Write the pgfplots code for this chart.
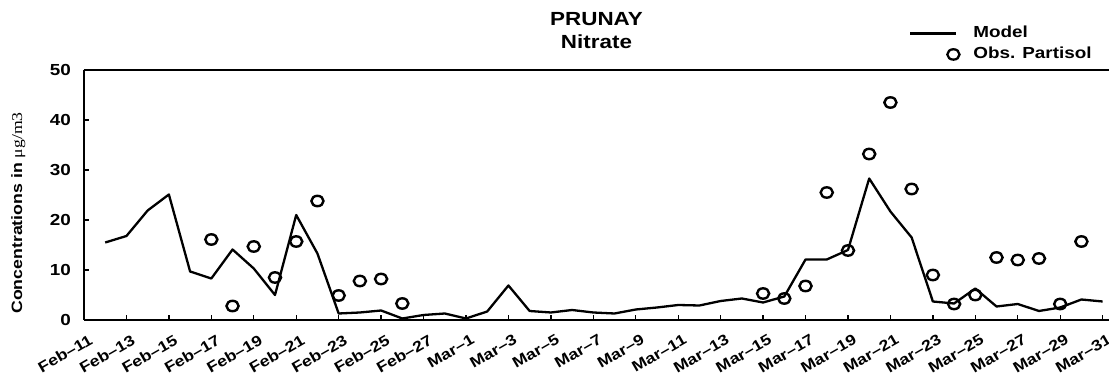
\documentclass[border=0pt]{standalone}
\usepackage{fontspec}
\setmainfont{Liberation Sans}[FakeStretch=1.18]
\newfontfamily\seriffont{Liberation Serif}[FakeStretch=1.18]
\usepackage{pgfplots}
\usepackage{pgfplotstable}
\pgfplotsset{compat=1.18}
\usetikzlibrary{calc}

\pgfplotstableread{
d v
1 15.5
2 16.8
3 21.9
4 25.1
5 9.7
6 8.3
7 14.1
8 10.3
9 5.0
10 21.0
11 13.3
12 1.3
13 1.5
14 1.9
15 0.3
16 1.0
17 1.3
18 0.3
19 1.7
20 6.9
21 1.8
22 1.5
23 2.0
24 1.5
25 1.3
26 2.1
27 2.5
28 3.0
29 2.9
30 3.8
31 4.3
32 3.5
33 4.7
34 12.1
35 12.1
36 14.0
37 28.3
38 21.7
39 16.5
40 3.7
41 3.3
42 6.3
43 2.7
44 3.2
45 1.8
46 2.5
47 4.1
48 3.7
}\model

\pgfplotstableread{
d v
6 16.1
7 2.8
8 14.7
9 8.5
10 15.7
11 23.8
12 4.9
13 7.8
14 8.2
15 3.3
32 5.3
33 4.3
34 6.8
35 25.5
36 13.9
37 33.2
38 43.5
39 26.2
40 9.0
41 3.2
42 5.0
43 12.5
44 12.0
45 12.3
46 3.2
47 15.7
}\obs

\begin{document}
\begin{tikzpicture}
\begin{axis}[name=ax,
  scale only axis, width=1025pt, height=250pt,
  xmin=0, xmax=48.3, ymin=0, ymax=50,
  axis lines=left,
  axis line style={-, line width=1.6pt, black},
  clip=false,
  tick align=inside,
  major tick length=5pt,
  tick style={line width=1.3pt, black},
  xtick={0,2,...,48},
  xticklabels={Feb–11,Feb–13,Feb–15,Feb–17,Feb–19,Feb–21,Feb–23,Feb–25,Feb–27,Mar–1,Mar–3,Mar–5,Mar–7,Mar–9,Mar–11,Mar–13,Mar–15,Mar–17,Mar–19,Mar–21,Mar–23,Mar–25,Mar–27,Mar–29,Mar–31},
  ytick={0,10,...,50},
  /pgf/number format/assume math mode=true,
  xticklabel style={font=\bfseries\fontsize{15}{15}\selectfont, rotate=30, anchor=north east, inner sep=0pt, yshift=-14pt, xshift=-3pt},
  yticklabel style={font=\bfseries\fontsize{16}{16}\selectfont, anchor=east, inner sep=0pt, xshift=-13pt},
  ylabel={\bfseries Concentrations in {\seriffont\mdseries μg/m3}},
  ylabel style={font=\fontsize{15}{15}\selectfont, at={(axis description cs:-0.064,0.428)}, anchor=center, rotate=0},
  title={PRUNAY\\Nitrate},
  title style={align=center, font=\bfseries\fontsize{19}{23.5}\selectfont, at={(axis description cs:0.5,1)}, anchor=south, yshift=15pt, inner sep=0pt},
  legend style={at={(axis description cs:0.805,1.175)}, anchor=north west, draw=none, fill=none,
    font=\bfseries\fontsize{16}{16}\selectfont, inner sep=0pt, row sep=7pt,
    nodes={inner sep=0pt, anchor=west, text height=11pt, text depth=3pt}},
  legend cell align=left,
]
\addplot[black, line width=2.3pt, line join=round,
  legend image code/.code={\path[draw=none, fill=none] (0pt,-6pt) rectangle (63pt,6pt); \draw[black, line width=2.2pt] (0pt,0pt) -- (46pt,0pt);}]
  table[x=d, y=v]{\model};
\addlegendentry{Model}
\addplot[only marks, mark=o, mark size=5.2pt, mark options={line width=2.4pt, black, xscale=1.17},
  legend image code/.code={\path[draw=none, fill=none] (0pt,-6pt) rectangle (63pt,6pt); \draw[black, line width=2.3pt] (43pt,0pt) ellipse [x radius=6.1pt, y radius=5.2pt];}]
  table[x=d, y=v]{\obs};
\addlegendentry{Obs. Partisol}
\draw[line width=1.6pt, black] (rel axis cs:0,1) -- (rel axis cs:1,1);
\end{axis}
\pgfresetboundingbox
\path[use as bounding box] ($(ax.south west)+(-84pt,-58pt)$) rectangle ($(ax.north east)+(0pt,70pt)$);
\end{tikzpicture}
\end{document}
